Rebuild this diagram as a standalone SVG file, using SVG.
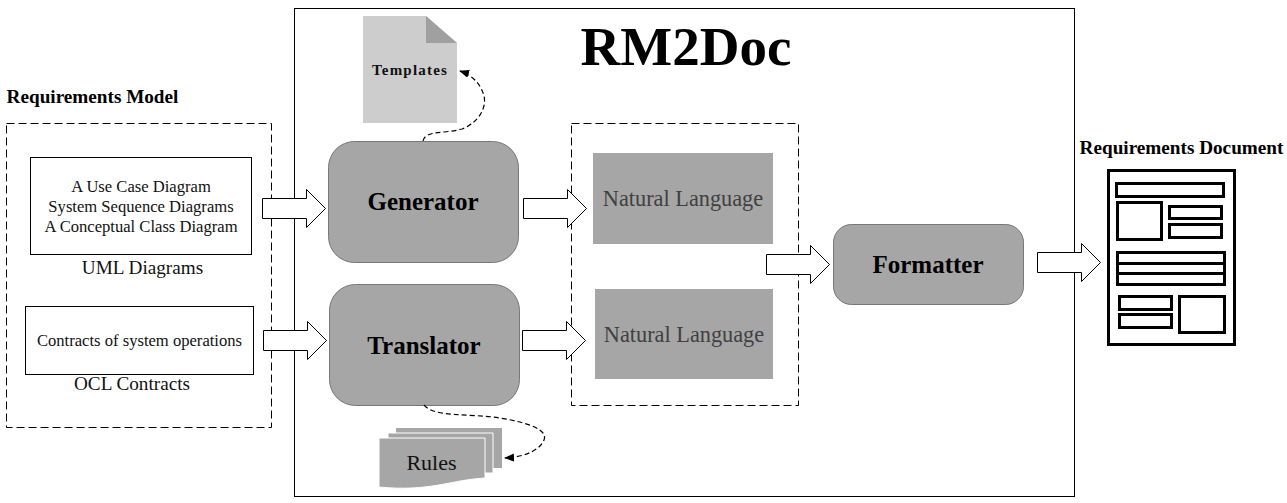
<svg xmlns="http://www.w3.org/2000/svg" width="1287" height="503" viewBox="0 0 1287 503">
<style>
text{font-family:"Liberation Serif","Times New Roman",serif;fill:#111;text-anchor:middle}
.b{font-weight:bold}
.box{fill:#fff;stroke:#000;stroke-width:1}
.dash{fill:none;stroke:#000;stroke-width:1;stroke-dasharray:8 4}
.proc{fill:#a6a6a6;stroke:#777;stroke-width:1}
.nl{fill:#a6a6a6}
.nlt{font-size:22.300px;fill:#404040}
.blk{font-size:25px;font-weight:bold;fill:#000}
.ar{fill:#fff;stroke:#000;stroke-width:1}
.cur{fill:none;stroke:#000;stroke-width:1.2;stroke-dasharray:5 3}
.d{fill:none;stroke:#000;stroke-width:3}
.lab{font-size:19.200px}
.in{font-size:16.600px}
.head{font-size:19.200px;font-weight:bold;fill:#000}
</style>
<defs>
<marker id="tip" markerWidth="12" markerHeight="10" refX="9" refY="4" orient="auto" markerUnits="userSpaceOnUse"><path d="M0 0L10 4L0 8z" fill="#000"/></marker>
<path id="fat" d="M0 -10H44V-19L63 0L44 19V10H0z"/>
</defs>
<rect id="frame" x="294.500" y="8.500" width="780" height="488" fill="#fff" stroke="#000"/>
<text x="686" y="65" font-size="55" class="b" style="fill:#000">RM2Doc</text>

<g id="requirements-model">
<text class="head" x="92.500" y="103">Requirements Model</text>
<rect class="dash" x="6.500" y="123.500" width="265" height="304"/>
</g>
<g id="uml-diagrams">
<rect class="box" x="30.500" y="157.500" width="221" height="97"/>
<text class="in" x="141" y="192">A Use Case Diagram</text>
<text class="in" x="141" y="212">System Sequence Diagrams</text>
<text class="in" x="141" y="232">A Conceptual Class Diagram</text>
<text class="lab" x="142.500" y="274">UML Diagrams</text>
</g>
<g id="ocl-contracts">
<rect class="box" x="25.500" y="306.500" width="228" height="68"/>
<text class="in" x="139.500" y="346">Contracts of system operations</text>
<text class="lab" x="132" y="390">OCL Contracts</text>
</g>

<g id="templates">
<path d="M363 16H426L457 43V123H363z" fill="#cdcdcd"/>
<path d="M426 16L457 43H426z" fill="#a0a0a0"/>
<text x="410" y="75" font-size="15" letter-spacing="1.200" style="font-weight:bold">Templates</text>
</g>
<g id="rules">
<path d="M396 428H502V468H396z" fill="#a6a6a6"/>
<path d="M388 433H493V473H388z" fill="#a6a6a6" stroke="#fff"/>
<path d="M379 438H485V478C450 480 430 492 379 487z" fill="#a6a6a6" stroke="#fff"/>
<text x="431.500" y="470" font-size="22">Rules</text>
</g>

<g id="generator">
<rect class="proc" x="328.500" y="141.500" width="190" height="121" rx="26"/>
<text class="blk" x="423" y="210">Generator</text>
</g>
<g id="translator">
<rect class="proc" x="329.500" y="284.500" width="190" height="121" rx="26"/>
<text class="blk" x="424" y="354">Translator</text>
</g>
<g id="natural-language">
<rect class="dash" x="571.500" y="123.500" width="227" height="282"/>
<rect class="nl" x="593" y="153" width="180" height="91"/>
<text class="nlt" x="683" y="206">Natural Language</text>
<rect class="nl" x="595" y="289" width="178" height="90"/>
<text class="nlt" x="684" y="342">Natural Language</text>
</g>
<g id="formatter">
<rect class="proc" x="833.500" y="224.500" width="190" height="80" rx="18"/>
<text class="blk" x="928" y="273">Formatter</text>
</g>
<g id="requirements-document">
<text class="head" x="1181.500" y="154">Requirements Document</text>
<rect class="d" x="1108.500" y="170.500" width="126" height="174"/>
<rect class="d" x="1116.500" y="183.500" width="107" height="13"/>
<rect class="d" x="1117.500" y="202.500" width="44" height="37"/>
<rect class="d" x="1169.500" y="206.500" width="52" height="12"/>
<rect class="d" x="1169.500" y="224.500" width="52" height="13"/>
<rect class="d" x="1117.500" y="252.500" width="107" height="32"/>
<path class="d" d="M1117.500 263.500H1224.500M1117.500 273.500H1224.500"/>
<rect class="d" x="1119.500" y="296.500" width="52" height="13"/>
<rect class="d" x="1119.500" y="314.500" width="52" height="13"/>
<rect class="d" x="1179.500" y="296.500" width="45" height="36"/>
</g>

<g id="connectors">
<use href="#fat" class="ar" x="262.500" y="208.500"/>
<use href="#fat" class="ar" x="263.500" y="340.500"/>
<use href="#fat" class="ar" x="523.500" y="208.500"/>
<use href="#fat" class="ar" x="522.500" y="340.500"/>
<use href="#fat" class="ar" x="766.500" y="264.500"/>
<use href="#fat" class="ar" x="1037.500" y="262.500"/>
<path class="cur" d="M423 141C425 130 445 134 462 129C478 123 487 108 484 96C481 84 472 75 460 71" marker-end="url(#tip)"/>
<path class="cur" d="M424 405C435 418 470 413 500 418C530 423 548 430 544 440C540 450 525 457 505 458" marker-end="url(#tip)"/>
</g>
</svg>
